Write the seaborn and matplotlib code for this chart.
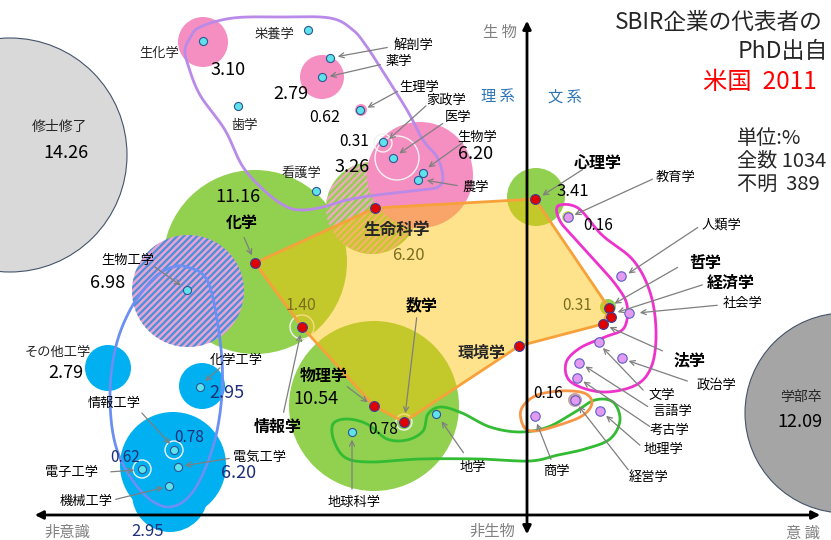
import numpy as np
import pandas as pd
import matplotlib.pyplot as plt
import matplotlib.patches as mpatches
import seaborn as sns

sns.set_theme(style="white")
plt.rcParams['font.family'] = ['Noto Sans CJK JP', 'DejaVu Sans']
plt.rcParams['hatch.linewidth'] = 1.6

# ---- データ（画像上の位置＝分野マップ） ----
# バブル: 名前, 中心x, 中心y, 半径, 色
bubble_name = ['修士修了', '学部卒', '化学', '物理学', '心理学', '生化学', '薬学', '生物学',
               '生理学', 'その他工学', '化学工学', '電気工学', '機械工学']
bubble_x = [10, 845, 255, 374, 536, 203, 322, 420, 361, 108, 202, 173, 170]
bubble_y = [155, 413, 262, 406, 197, 42, 77, 175, 110, 368, 386, 465, 494]
bubble_r = [117, 100, 92, 85, 29, 25, 22, 53, 6, 23, 23, 53, 38]
bubble_c = ['#d9d9d9', '#a5a5a5', '#92d050', '#92d050', '#92d050', '#f58fc1', '#f58fc1',
            '#f58fc1', '#f58fc1', '#00b0f0', '#00b0f0', '#00b0f0', '#00b0f0']

# 斜線バブル（看護学/生命科学, 生物工学）
hatch_x = [372, 188]
hatch_y = [208, 291]
hatch_r = [46, 56]
hatch_face = ['#92d050', '#e9a3d2']
hatch_line = ['#f3a7c6', '#4a90d9']

# 点: 分野名, x, y
cyan_name = ['生化学', '栄養学', '解剖学', '薬学', '歯学', '生理学', '家政学', '医学', '生物学', '農学',
             '看護学', '生物工学', '化学工学', '情報工学', '電子工学', '電気工学', '機械工学', '地学', '地球科学']
cyan_x = [203, 308, 330, 322, 238, 360, 383, 393, 423, 418, 316, 187, 200, 174, 142, 178, 169, 436, 352]
cyan_y = [41, 30, 58, 77, 106, 110, 142, 158, 173, 180, 191, 290, 387, 450, 469, 467, 486, 414, 432]

red_name = ['化学', '生命科学', '心理学', '哲学', '経済学', '法学', '環境学', '数学', '物理学', '情報学']
red_x = [255, 375, 535, 609, 611, 603, 519, 404, 374, 302]
red_y = [263, 208, 199, 308, 317, 324, 346, 422, 406, 327]

lav_name = ['教育学', '人類学', '社会学', '文学', '政治学', '言語学', '考古学', '経営学', '商学', '地理学']
lav_x = [568, 621, 629, 599, 622, 579, 577, 575, 535, 600]
lav_y = [217, 276, 313, 342, 358, 363, 378, 400, 416, 411]

# 多角形（赤点を結ぶ）
poly_order = ['化学', '生命科学', '心理学', '哲学', '法学', '環境学', '数学', '物理学', '情報学']

# 囲み線（手書き風の閉曲線）
purple_x = [303, 287, 267, 243, 225, 200, 188, 185, 190, 200, 233, 280, 330, 353, 367, 380, 407, 423, 437, 443, 438, 420, 377, 347, 323]
purple_y = [210, 207, 193, 167, 130, 95, 65, 50, 38, 27, 18, 17, 18, 30, 47, 67, 110, 140, 157, 177, 187, 190, 195, 200, 207]
blue_x = [187, 208, 220, 222, 213, 192, 167, 140, 117, 110, 115, 130, 152, 170]
blue_y = [267, 282, 340, 393, 447, 493, 507, 490, 450, 400, 350, 310, 280, 268]
green_x = [333, 347, 367, 387, 407, 423, 428, 441, 462, 490, 520, 548, 575, 595, 613, 620, 610, 585, 558, 530, 480, 420, 372, 346, 334]
green_y = [424, 419, 424, 439, 440, 431, 414, 407, 413, 427, 432, 427, 412, 400, 402, 420, 439, 449, 455, 461, 459, 459, 462, 458, 441]
orange_x = [524, 521, 535, 560, 584, 592, 582, 556, 535]
orange_y = [427, 410, 396, 391, 393, 403, 416, 426, 431]
magenta_x = [558, 578, 602, 633, 650, 656, 652, 636, 602, 571, 566, 580, 605, 624, 627, 616, 596, 576, 560]
magenta_y = [206, 208, 235, 260, 292, 330, 365, 385, 392, 382, 363, 348, 337, 328, 305, 285, 262, 240, 221]

# 数値ラベル
value_text = ['14.26', '12.09', '11.16', '10.54', '3.41', '3.10', '2.79', '6.20', '0.62', '0.31', '3.26',
              '6.98', '2.79', '2.95', '0.78', '0.62', '6.20', '2.95', '6.20', '1.40', '0.78', '0.31', '0.16', '0.16']


def smooth_loop(xs, ys, n=16):
    p = np.column_stack([xs, ys]).astype(float)
    k = len(p)
    t = np.linspace(0, 1, n, endpoint=False)[:, None]
    segs = []
    for i in range(k):
        p0, p1, p2, p3 = p[i - 1], p[i], p[(i + 1) % k], p[(i + 2) % k]
        segs.append(0.5 * (2 * p1 + (-p0 + p2) * t + (2 * p0 - 5 * p1 + 4 * p2 - p3) * t ** 2
                           + (-p0 + 3 * p1 - 3 * p2 + p3) * t ** 3))
    out = np.vstack(segs + [segs[0][:1]])
    return out[:, 0], out[:, 1]


fig = plt.figure(figsize=(8.31, 5.4), dpi=100)
ax = fig.add_axes([0, 0, 1, 1])

# バブル
for i in range(5):
    ec = '#44546a' if i < 2 else 'none'
    ax.add_patch(mpatches.Circle((bubble_x[i], bubble_y[i]), bubble_r[i], fc=bubble_c[i],
                                 ec=ec, lw=0.8, zorder=1))
for i in range(2):
    ax.add_patch(mpatches.Circle((hatch_x[i], hatch_y[i]), hatch_r[i], fc=hatch_face[i], ec='none', zorder=2))
    ax.add_patch(mpatches.Circle((hatch_x[i], hatch_y[i]), hatch_r[i], fc='none', ec=hatch_line[i],
                                 hatch='/////', lw=0, zorder=2))
for i in range(5, len(bubble_name)):
    ax.add_patch(mpatches.Circle((bubble_x[i], bubble_y[i]), bubble_r[i], fc=bubble_c[i],
                                 ec='none', zorder=3))

# 小さな輪
for (cx, cy, r, c) in [(568, 217, 6, '#d4e157'), (608, 307, 8, '#92d050'), (575, 400, 7, '#c9a3a3')]:
    ax.add_patch(mpatches.Circle((cx, cy), r, fc=c, ec='none', zorder=4))
for (cx, cy, r) in [(302, 327, 12), (404, 422, 8), (174, 450, 9), (142, 469, 9), (383, 143, 9), (397, 158, 22)]:
    ax.add_patch(mpatches.Circle((cx, cy), r, fc='none', ec='#f2f2f2', lw=1.0, zorder=4))

# 多角形
pos = dict(zip(red_name, zip(red_x, red_y)))
poly = np.array([pos[n] for n in poly_order])
ax.add_patch(mpatches.Polygon(poly, closed=True, fc='#ffc000', alpha=0.45, ec='none', zorder=5))
ax.add_patch(mpatches.Polygon(poly, closed=True, fc='none', ec='#f7a13a', lw=2.0, zorder=6))

# 囲み線
for xs, ys, c in [(purple_x, purple_y, '#b98ae8'), (blue_x, blue_y, '#6b8ff2'),
                  (green_x, green_y, '#33bb33'), (orange_x, orange_y, '#f79646'),
                  (magenta_x, magenta_y, '#ee33cc')]:
    sx, sy = smooth_loop(xs, ys)
    ax.plot(sx, sy, color=c, lw=2.0, zorder=7, solid_capstyle='round')

# 点
df_c = pd.DataFrame({'x': cyan_x, 'y': cyan_y, 'name': cyan_name})
df_r = pd.DataFrame({'x': red_x, 'y': red_y, 'name': red_name})
df_l = pd.DataFrame({'x': lav_x, 'y': lav_y, 'name': lav_name})
sns.scatterplot(data=df_c, x='x', y='y', ax=ax, s=34, color='#5fe3ea', edgecolor='#2f5597',
                linewidth=0.8, zorder=9, legend=False)
sns.scatterplot(data=df_r, x='x', y='y', ax=ax, s=50, color='#e00000', edgecolor='#3b3f9a',
                linewidth=0.8, zorder=9, legend=False)
sns.scatterplot(data=df_l, x='x', y='y', ax=ax, s=46, color='#e49af0', edgecolor='#5b5fc7',
                linewidth=0.8, zorder=9, legend=False)
ax.set_xlim(0, 831)
ax.set_ylim(540, 0)
ax.axis('off')

# 軸
ax.annotate('', xy=(32, 515), xytext=(823, 515),
            arrowprops=dict(arrowstyle='<|-|>', color='black', lw=2.0, mutation_scale=12), zorder=8)
ax.annotate('', xy=(527, 18), xytext=(527, 537),
            arrowprops=dict(arrowstyle='<|-|>', color='black', lw=2.0, mutation_scale=12), zorder=8)

# 矢印ラベル (テキスト, ラベル中心x, y, 矢印始点x, y, 終点x, y, 太字)
arrow_labels = [
    ('解剖学', 413, 45, 390, 47, 335, 57, False),
    ('薬学', 399, 62, 383, 64, 327, 77, False),
    ('生理学', 419, 87, 400, 90, 365, 109, False),
    ('家政学', 446, 100, 428, 104, 387, 141, False),
    ('医学', 458, 118, 445, 122, 397, 155, False),
    ('生物学', 477, 137, 465, 141, 426, 169, False),
    ('農学', 476, 187, 460, 186, 424, 180, False),
    ('生物工学', 128, 260, 152, 265, 183, 287, False),
    ('化学', 242, 223, 243, 235, 253, 258, True),
    ('化学工学', 236, 360, 222, 366, 203, 383, False),
    ('情報工学', 114, 403, 140, 411, 172, 446, False),
    ('電子工学', 71, 472, 108, 472, 137, 470, False),
    ('電気工学', 260, 457, 232, 458, 182, 466, False),
    ('機械工学', 86, 502, 113, 500, 166, 487, False),
    ('情報学', 278, 427, 283, 415, 301, 332, True),
    ('物理学', 324, 376, 345, 385, 370, 404, True),
    ('数学', 422, 305, 417, 315, 405, 416, True),
    ('地球科学', 354, 502, 352, 492, 352, 437, False),
    ('地学', 473, 467, 465, 455, 440, 419, False),
    ('心理学', 598, 163, 585, 168, 540, 197, True),
    ('教育学', 676, 177, 655, 178, 572, 216, False),
    ('人類学', 721, 225, 700, 226, 626, 275, False),
    ('哲学', 705, 263, 680, 266, 612, 305, True),
    ('経済学', 731, 283, 705, 284, 615, 313, True),
    ('社会学', 743, 304, 720, 305, 637, 313, False),
    ('法学', 690, 360, 665, 352, 607, 326, True),
    ('政治学', 716, 385, 690, 382, 626, 360, False),
    ('文学', 662, 395, 645, 392, 601, 346, False),
    ('言語学', 672, 412, 650, 408, 583, 365, False),
    ('考古学', 670, 430, 652, 428, 581, 380, False),
    ('地理学', 663, 450, 642, 447, 604, 414, False),
    ('経営学', 649, 477, 630, 472, 577, 404, False),
    ('商学', 556, 471, 552, 462, 536, 421, False),
]
for txt, lx, ly, sx, sy, ex, ey, bold in arrow_labels:
    ax.annotate('', xy=(ex, ey), xytext=(sx, sy),
                arrowprops=dict(arrowstyle='->', color='#7f7f7f', lw=0.9, mutation_scale=9), zorder=10)
    ax.text(lx, ly, txt, ha='center', va='center', zorder=11,
            fontsize=11.5 if bold else 9.5, fontweight='bold' if bold else 'normal', color='black')

# 単独ラベル
plain = [('生化学', 159, 53), ('栄養学', 274, 34), ('歯学', 245, 126), ('看護学', 301, 173),
         ('その他工学', 58, 352)]
for txt, x, y in plain:
    ax.text(x, y, txt, ha='center', va='center', fontsize=9.5, zorder=11)
ax.text(60, 127, '修士修了', ha='center', va='center', fontsize=10, zorder=11)
ax.text(801, 397, '学部卒', ha='center', va='center', fontsize=10, zorder=11)
ax.text(397, 230, '生命科学', ha='center', va='center', fontsize=12, fontweight='bold', zorder=11)
ax.text(482, 353, '環境学', ha='center', va='center', fontsize=11.5, fontweight='bold', zorder=11)

# 数値
value_pos = [(66, 153, 13, 'black'), (800, 422, 13, 'black'), (238, 197, 13, 'black'),
             (316, 399, 13, 'black'), (573, 192, 12, 'black'), (228, 70, 13, 'black'),
             (291, 94, 13, 'black'), (476, 154, 13, 'black'), (325, 117, 11.5, 'black'),
             (354, 142, 11, 'black'), (352, 167, 13, 'black'), (108, 283, 13, 'black'),
             (66, 373, 13, 'black'), (227, 393, 13, '#1f2f7a'), (189, 437, 11, '#1f2f7a'),
             (125, 458, 11, '#1f2f7a'), (239, 473, 13, '#1f2f7a'), (148, 531, 12, '#1f2f7a'),
             (408, 256, 12, '#7a6f1e'), (301, 305, 11.5, '#7a6f1e'), (383, 429, 11, 'black'),
             (577, 305, 11, '#7a6f1e'), (598, 225, 11, 'black'), (548, 394, 11, 'black')]
for txt, (x, y, fs, c) in zip(value_text, value_pos):
    ax.text(x, y, txt, ha='center', va='center', fontsize=fs, color=c, zorder=11)

# 軸ラベル
for txt, x, y, c in [('生 物', 500, 32, '#808080'), ('非生物', 492, 531, '#808080'),
                     ('非意識', 67, 532, '#808080'), ('意 識', 803, 533, '#808080'),
                     ('理 系', 498, 97, '#2e75b6'), ('文 系', 565, 97, '#2e75b6')]:
    ax.text(x, y, txt, ha='center', va='center', fontsize=11, color=c, zorder=11)

# タイトル
ax.text(615, 22, 'SBIR企業の代表者の', ha='left', va='center', fontsize=16.3, zorder=11)
ax.text(738, 52, 'PhD出自', ha='left', va='center', fontsize=16.5, zorder=11)
ax.text(703, 82, '米国  2011', ha='left', va='center', fontsize=17.5, color='#ff0000', zorder=11)
ax.text(737, 138, '単位:%', ha='left', va='center', fontsize=14.5, zorder=11)
ax.text(737, 161, '全数 1034', ha='left', va='center', fontsize=14.5, zorder=11)
ax.text(737, 184, '不明  389', ha='left', va='center', fontsize=14.5, zorder=11)

fig.savefig('out.png', dpi=100)
